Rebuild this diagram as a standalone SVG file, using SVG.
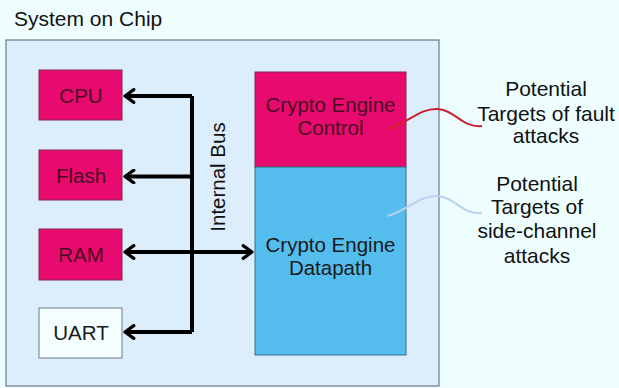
<svg xmlns="http://www.w3.org/2000/svg" width="619" height="388" viewBox="0 0 619 388">
<style>
text{font-family:"Liberation Sans",Arial,sans-serif;}
.pink{fill:#E80A6E;stroke:#7A2A4A;stroke-width:1;}
.pt{font-size:20.5px;fill:#4A0A22;text-anchor:middle;}
.dt{font-size:20.5px;fill:#1A1A1A;text-anchor:middle;}
.lbl{font-size:21px;fill:#111;text-anchor:middle;}
.bus{fill:none;stroke:#000;stroke-width:4;}
</style>
<defs>
<marker id="ah" viewBox="0 0 10 10" refX="8" refY="5" markerWidth="3.8" markerHeight="3.8" orient="auto-start-reverse" markerUnits="strokeWidth">
<path d="M2.2,0.8 L8,5 L2.2,9.2" fill="none" stroke="#000" stroke-width="2.1" stroke-linecap="round" stroke-linejoin="round"/>
</marker>
</defs>
<rect x="0" y="0" width="619" height="388" fill="#EEFEFF"/>
<text x="14" y="26" font-size="21" fill="#111">System on Chip</text>
<g id="chip">
<rect x="6" y="40" width="433" height="346" fill="#DCEEFB" stroke="#6A7888" stroke-width="1.2"/>
</g>
<g id="cpu"><rect class="pink" x="39" y="70" width="83" height="50"/><text class="pt" x="81" y="103">CPU</text></g>
<g id="flash"><rect class="pink" x="39" y="150" width="83" height="50"/><text class="pt" x="81" y="183">Flash</text></g>
<g id="ram"><rect class="pink" x="39" y="229" width="83" height="51"/><text class="pt" x="81" y="262">RAM</text></g>
<g id="uart"><rect x="39" y="308" width="83" height="50" fill="#F4FEFF" stroke="#6A7888" stroke-width="1"/><text class="dt" x="81" y="340">UART</text></g>
<g id="crypto-control"><rect class="pink" x="255" y="72" width="151" height="95"/><text class="pt" x="330.5" y="112">Crypto Engine</text><text class="pt" x="330.5" y="135">Control</text></g>
<g id="crypto-datapath"><rect x="255" y="167" width="151" height="188" fill="#55BDEE" stroke="#3A6A8A" stroke-width="1"/><text class="dt" x="330.5" y="252">Crypto Engine</text><text class="dt" x="330.5" y="275">Datapath</text></g>
<g id="connectors">
<path class="bus" d="M192,96 V332"/>
<path class="bus" d="M192,96 H125" marker-end="url(#ah)"/>
<path class="bus" d="M192,176.5 H125" marker-end="url(#ah)"/>
<path class="bus" d="M192,332 H125" marker-end="url(#ah)"/>
<path class="bus" d="M125,252 H252" marker-start="url(#ah)" marker-end="url(#ah)"/>
<path d="M388,129 C410,122 420,108 438,109 C455,110 462,128 482,126" fill="none" stroke="#D0202E" stroke-width="2"/>
<path d="M388,216 C410,209 420,195 438,196 C455,197 462,215 482,213" fill="none" stroke="#B8D2F2" stroke-width="2"/>
</g>
<text x="0" y="0" font-size="20.5" fill="#111" text-anchor="middle" transform="translate(225,177) rotate(-90)">Internal Bus</text>
<g id="fault-label">
<text class="lbl" x="546" y="96">Potential</text>
<text class="lbl" x="546" y="121">Targets of fault</text>
<text class="lbl" x="546" y="143">attacks</text>
</g>
<g id="sc-label">
<text class="lbl" x="537" y="191">Potential</text>
<text class="lbl" x="537" y="214">Targets of</text>
<text class="lbl" x="537" y="238">side-channel</text>
<text class="lbl" x="537" y="263">attacks</text>
</g>
</svg>
